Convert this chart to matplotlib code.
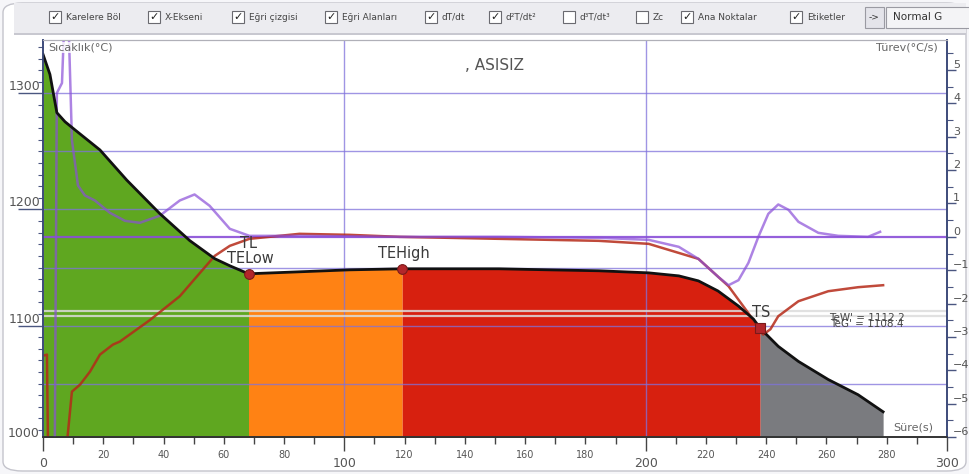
import matplotlib
matplotlib.use("Agg")
import matplotlib.pyplot as plt
import numpy as np
import matplotlib.transforms as mtransforms
from matplotlib.patches import Rectangle, FancyBboxPatch
from matplotlib.ticker import FixedLocator, FuncFormatter

# ---------------- data ----------------
time_s = [0, 2.3, 4.6, 7.3, 10.6, 18.9, 27.8, 38.7, 48.7, 57.0, 62.0, 68.2, 85.0, 101.7,
          119.2, 134.8, 151.3, 168.0, 184.4, 201.0, 211.0, 217.5, 224.0, 230.8, 235.8,
          238.0, 244.0, 250.7, 260.6, 270.5, 278.8]
temp_c = [1333.7, 1316.4, 1283.4, 1275.6, 1268.6, 1251.3, 1225.3, 1196.6, 1173.2, 1157.6,
          1151.5, 1144.6, 1146.3, 1148.0, 1148.9, 1148.9, 1148.9, 1148.0, 1147.2, 1145.4,
          1142.8, 1138.5, 1129.8, 1116.8, 1105.5, 1097.7, 1082.1, 1069.1, 1053.5, 1040.4,
          1025.7]

d1_time = [3.9, 4.6, 6.3, 7.3, 8.3, 9.6, 11.6, 13.9, 17.2, 22.2, 27.2, 32.1, 38.7, 45.4,
           50.3, 55.3, 62.0, 68.5, 85.1, 118.2, 151.3, 184.4, 201.0, 211.0, 217.5, 224.2,
           227.5, 230.8, 234.1, 237.4, 240.7, 244.0, 247.4, 250.7, 257.3, 263.9, 273.8, 277.8]
d1_val = [-6.5, 4.31, 4.61, 7.0, 7.0, 2.9, 1.54, 1.24, 1.09, 0.72, 0.48, 0.42, 0.63, 1.09,
          1.27, 0.93, 0.24, 0.03, 0.03, 0.0, 0.0, -0.03, -0.09, -0.3, -0.66, -1.21,
          -1.45, -1.3, -0.78, 0.0, 0.69, 0.97, 0.81, 0.45, 0.12, 0.03, 0.0, 0.15]

d2_time = [0.6, 1.3, 1.7, 7.6, 9.6, 12.3, 15.6, 18.9, 23.2, 25.5, 35.4, 45.4, 52.0, 57.0,
           62.0, 68.5, 75.2, 85.1, 101.7, 118.2, 151.3, 184.4, 201.0, 217.5, 227.5, 234.1,
           239.0, 241.4, 244.0, 250.7, 260.6, 270.5, 278.8]
d2_val = [-3.55, -3.53, -6.5, -6.5, -4.64, -4.43, -4.04, -3.53, -3.23, -3.14, -2.5, -1.78,
          -1.09, -0.57, -0.27, -0.06, 0.0, 0.09, 0.06, 0.0, -0.06, -0.12, -0.21, -0.66,
          -1.48, -2.29, -2.93, -2.77, -2.38, -1.93, -1.63, -1.51, -1.45]

key_names = ["TELow", "TEHigh", "TS"]
key_time = [68.2, 119.2, 238.0]
key_temp = [1144.6, 1148.9, 1097.7]
region_bounds = [0, 68.2, 119.2, 238.0, 278.8]
region_colors = ["#5fa720", "#ff8214", "#d7200f", "#7a7b7f"]
grid_temps = [1050, 1100, 1150, 1200, 1250, 1300]
grid_times = [100, 200]
tew_temps = [1112.2, 1108.4]
tew_labels = ["TeW' = 1112.2", "TeG' = 1108.4"]
deriv_zero = [0.0]

x_major = [0, 100, 200, 300]
x_minor = [v for v in range(10, 300, 10) if v not in x_major]
y_major = [1100, 1200, 1300]
y_minor = [v for v in range(1010, 1346, 10) if v not in y_major]
r_major = [-6, -5, -4, -3, -2, -1, 0, 1, 2, 3, 4, 5]
r_minor = [v + 0.5 for v in range(-6, 6)]

toolbar_labels = ["Karelere Böl", "X-Ekseni", "Eğri çizgisi", "Eğri Alanları", "dT/dt",
                  "d²T/dt²", "d³T/dt³", "Zc", "Ana Noktalar", "Etiketler"]
toolbar_checked = [1, 1, 1, 1, 1, 1, 0, 0, 1, 1]
toolbar_x = [49, 148, 232, 325, 425, 489, 563, 636, 681, 790]

# ---------------- figure ----------------
W, H = 969, 474
PT = 0.72  # points per pixel at dpi 100
fig = plt.figure(figsize=(W / 100, H / 100), dpi=100)
fig.patch.set_facecolor("#f6f6f9")

def px_rect(x, y, w, h, **kw):
    return Rectangle((x / W, 1 - (y + h) / H), w / W, h / H,
                     transform=fig.transFigure, **kw)

# window frame & toolbar
fig.add_artist(FancyBboxPatch((3 / W, 3 / H), (W - 6) / W, (H - 6) / H,
                              boxstyle="round,pad=0,rounding_size=0.02",
                              transform=fig.transFigure, fc="#ffffff", ec="#c4c4cc",
                              lw=1.0, zorder=-5))
fig.add_artist(px_rect(14, 3, W - 17, 31, fc="#ececf0", ec="none", zorder=-4))
fig.add_artist(px_rect(14, 33, W - 17, 2, fc="#c8c8d0", ec="none", zorder=-4))
for lab, chk, bx in zip(toolbar_labels, toolbar_checked, toolbar_x):
    fig.add_artist(px_rect(bx, 11, 12, 12, fc="white", ec="#6a6a70", lw=0.8))
    if chk:
        fig.text((bx + 6) / W, 1 - 17 / H, "✓", ha="center", va="center",
                 fontsize=8, color="#222222")
    fig.text((bx + 17) / W, 1 - 17 / H, lab, ha="left", va="center",
             fontsize=6.5, color="#444444")
fig.add_artist(px_rect(865, 7, 19, 21, fc="#e4e4ea", ec="#9a9aa2", lw=0.8))
fig.text(874 / W, 1 - 17 / H, "->", ha="center", va="center", fontsize=6.5, color="#333")
fig.add_artist(px_rect(886, 7, 90, 21, fc="#f4f4f6", ec="#9a9aa2", lw=0.8))
fig.text(893 / W, 1 - 17 / H, "Normal G", ha="left", va="center", fontsize=7.5, color="#333")

# axes
left_px, right_px, top_px, bot_px = 43, 947, 40, 437
ax = fig.add_axes([left_px / W, 1 - bot_px / H, (right_px - left_px) / W, (bot_px - top_px) / H])
ax.set_facecolor("white")
ax2 = ax.twinx()

t = np.array(time_s)
T = np.array(temp_c)
ylo, yhi = 1004, 1346
rlo, rhi = -6, 5.9

for (a, b), c in zip(zip(region_bounds[:-1], region_bounds[1:]), region_colors):
    m = (t >= a) & (t <= b)
    ax.fill_between(t[m], T[m], ylo - 10, color=c, lw=0, zorder=1)

grid_c = "#7f72dc"
for g in grid_temps:
    ax.axhline(g, color=grid_c, lw=1.0, alpha=0.75, zorder=2)
for g in grid_times:
    ax.axvline(g, color=grid_c, lw=1.0, alpha=0.75, zorder=2)
for g in tew_temps:
    ax.axhline(g, color="#dcdcdc", lw=1.6, alpha=0.85, zorder=2.5)

rtrans = ax2.transData
zero_trans = mtransforms.blended_transform_factory(ax.transAxes, ax2.transData)
for z in deriv_zero:
    ax.plot([0, 1], [z, z], transform=zero_trans, color="#8a4fd8", lw=1.6, alpha=0.9, zorder=3)

ax.plot(d2_time, d2_val, transform=rtrans, color="#b52a18", lw=1.8, alpha=0.85, zorder=3.2)
ax.plot(d1_time, d1_val, transform=rtrans, color="#8a4fd8", lw=1.8, alpha=0.7, zorder=3.3)
ax.plot(t, T, color="#111111", lw=2.0, zorder=4)

marker_styles = ["o", "o", "s"]
for name, kt, kT, ms in zip(key_names, key_time, key_temp, marker_styles):
    ax.plot([kt], [kT], marker=ms, ms=7 if ms == "o" else 7.5, color="#b3262a",
            mec="#7a1a1a", mew=0.8, zorder=5)
    ax.annotate(name, (kt, kT), xytext=(1, 11), textcoords="offset points",
                ha="center", va="center", fontsize=10.5, color="#3a3a3a", zorder=6)
ax.annotate("TL", (key_time[0], key_temp[0]), xytext=(0, 22), textcoords="offset points",
            ha="center", va="center", fontsize=10.5, color="#3a3a3a", zorder=6)

ax.text(273.5, 1106.8, tew_labels[0], ha="center", va="center", fontsize=7.5, color="#444", zorder=6)
ax.text(273.5, 1101.6, tew_labels[1], ha="center", va="center", fontsize=7.5, color="#444", zorder=6)

ax.text(0.499, 0.937, ", ASISIZ", transform=ax.transAxes, ha="center", va="center",
        fontsize=11, color="#555555")
ax.text(0.006, 0.993, "Sıcaklık(°C)", transform=ax.transAxes, ha="left", va="top",
        fontsize=8, color="#666666", zorder=6,
        bbox=dict(fc="white", ec="none", pad=0.5, alpha=0.8))
ax.text(0.99, 0.993, "Türev(°C/s)", transform=ax.transAxes, ha="right", va="top",
        fontsize=8, color="#666666", zorder=6)
ax.text(0.985, 0.023, "Süre(s)", transform=ax.transAxes, ha="right", va="center",
        fontsize=8, color="#666666", zorder=6,
        bbox=dict(fc="white", ec="none", pad=1.5))

ax.set_xlim(0, 300)
ax.set_ylim(ylo, yhi)
ax2.set_ylim(rlo, rhi)

# x axis ticks
ax.xaxis.set_major_locator(FixedLocator(x_major))
ax.xaxis.set_minor_locator(FixedLocator(x_minor))
ax.xaxis.set_minor_formatter(FuncFormatter(lambda v, p: f"{v:.0f}" if v % 20 == 0 else ""))
ax.tick_params(axis="x", which="major", length=14 * PT, width=1.0, pad=6 * PT, labelsize=9,
               color="#444", labelcolor="#555")
ax.tick_params(axis="x", which="minor", length=7 * PT, width=1.0, pad=6 * PT, labelsize=7,
               color="#444", labelcolor="#555")

# left axis
ax.yaxis.set_major_locator(FixedLocator(y_major))
ax.yaxis.set_minor_locator(FixedLocator(y_minor))
ax.tick_params(axis="y", which="major", length=25 * PT, width=1.0, pad=-22 * PT, labelsize=9,
               color="#4a5680", labelcolor="#555")
ax.tick_params(axis="y", which="minor", length=5 * PT, width=0.8, color="#4a5680")
for lab in ax.get_yticklabels():
    lab.set_va("bottom")
ax.text(-0.0033, 1004 + 3, "1000",
        transform=mtransforms.blended_transform_factory(ax.transAxes, ax.transData),
        ha="right", va="center", fontsize=9, color="#555")

# right axis
ax2.yaxis.set_major_locator(FixedLocator(r_major))
ax2.yaxis.set_minor_locator(FixedLocator(r_minor))
ax2.tick_params(axis="y", which="major", length=9 * PT, width=1.0, pad=-3 * PT, labelsize=8,
                color="#4a5680", labelcolor="#555")
ax2.tick_params(axis="y", which="minor", length=6 * PT, width=0.8, color="#4a5680")
for lab in ax2.get_yticklabels():
    lab.set_va("bottom")

for a_ in (ax, ax2):
    a_.spines["left"].set_color("#3d4a7a")
    a_.spines["right"].set_color("#3d4a7a")
    a_.spines["bottom"].set_color("#333333")
    a_.spines["top"].set_color("#b0b0b8")
    a_.spines["left"].set_linewidth(1.2)
    a_.spines["right"].set_linewidth(1.2)
    a_.spines["bottom"].set_linewidth(1.2)

fig.savefig("out.png", dpi=100, facecolor=fig.get_facecolor())
